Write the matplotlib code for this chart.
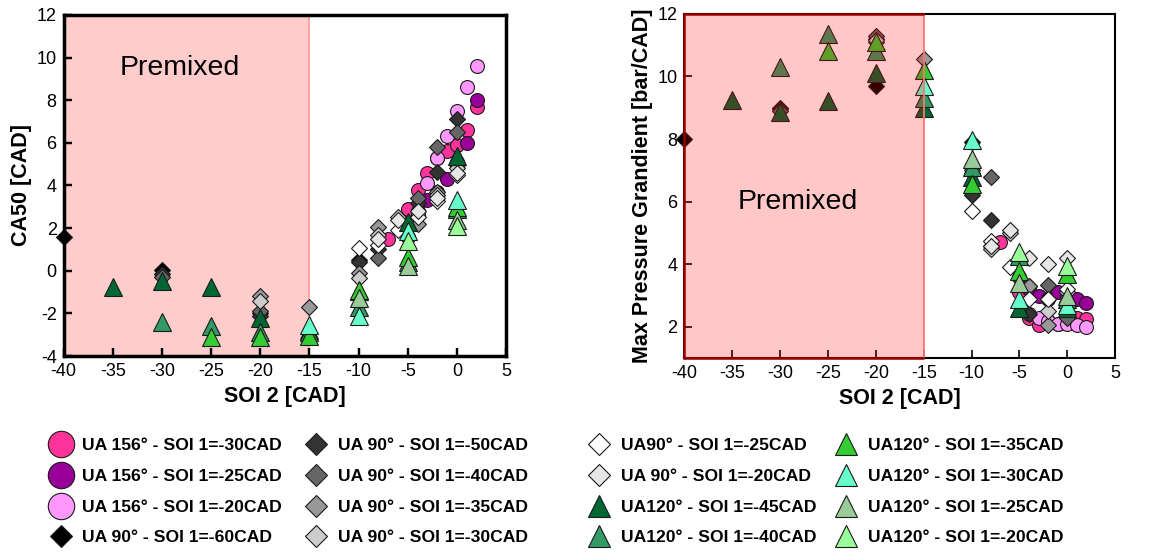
import matplotlib
matplotlib.use("Agg")
import matplotlib.pyplot as plt
from matplotlib.lines import Line2D

plt.rcParams['font.family'] = ['Liberation Sans', 'DejaVu Sans']
plt.rcParams['axes.unicode_minus'] = False

# --- series definitions (label, marker, face colour) ----------------------
LABELS = [
    "UA 156° - SOI 1=-30CAD", "UA 156° - SOI 1=-25CAD", "UA 156° - SOI 1=-20CAD",
    "UA 90° - SOI 1=-60CAD", "UA 90° - SOI 1=-50CAD", "UA 90° - SOI 1=-40CAD",
    "UA 90° - SOI 1=-35CAD", "UA 90° - SOI 1=-30CAD", "UA90° - SOI 1=-25CAD",
    "UA 90° - SOI 1=-20CAD", "UA120° - SOI 1=-45CAD", "UA120° - SOI 1=-40CAD",
    "UA120° - SOI 1=-35CAD", "UA120° - SOI 1=-30CAD", "UA120° - SOI 1=-25CAD",
    "UA120° - SOI 1=-20CAD",
]
MARKERS = ["o"] * 3 + ["D"] * 7 + ["^"] * 6
COLORS = ["#FF3399", "#990099", "#FF99FF",
          "#000000", "#333333", "#666666", "#999999", "#CCCCCC", "#FFFFFF", "#E6E6E6",
          "#006633", "#339966", "#33CC33", "#66FFCC", "#99CC99", "#99FF99"]

# SOI 2 values per series
SOI2 = [
    [-7, -5, -4, -3, -2, -1, 0, 1, 2],
    [-5, -4, -3, -2, -1, 0, 1, 2],
    [-4, -3, -2, -1, 0, 1, 2],
    [-40, -30, -20, -10],
    [-30, -20, -10, -8, -4, -2, 0],
    [-30, -20, -8, -4, -2, 0],
    [-20, -15, -10, -8, -4, -2, 0],
    [-20, -10, -8, -6, -2, 0],
    [-10, -8, -6, -4, -2, 0],
    [-8, -6, -4, -2, 0],
    [-35, -30, -25, -20, -15, -10, -5, 0],
    [-30, -25, -20, -15, -10, -5, 0],
    [-25, -20, -15, -10, -5, 0],
    [-15, -10, -5, 0],
    [-10, -5, 0],
    [-5, 0],
]

# CA50 [CAD]
CA50 = [
    [1.5, 2.9, 3.8, 4.6, 5.3, 5.6, 5.9, 6.6, 7.7],
    [1.6, 2.8, 3.3, 3.7, 4.3, 5.1, 6.0, 8.0],
    [2.6, 4.1, 5.3, 6.3, 7.5, 8.6, 9.6],
    [1.6, 0.05, -2.0, 0.5],
    [-0.15, -2.1, 0.4, 1.0, 3.2, 4.65, 7.1],
    [-0.3, -1.9, 0.6, 3.4, 5.8, 6.5],
    [-1.2, -1.7, -0.1, 2.07, 2.2, 3.7, 4.97],
    [-1.4, -0.35, 1.7, 2.5, 3.55, 4.8],
    [1.05, 1.2, 1.9, 2.5, 3.25, 4.5],
    [1.5, 2.4, 2.8, 3.4, 4.6],
    [-0.75, -0.5, -0.75, -2.2, -2.8, -0.95, 2.3, 5.4],
    [-2.4, -2.6, -2.85, -2.85, -1.7, 0.4, 2.9],
    [-3.1, -3.1, -3.05, -0.9, 0.65, 3.0],
    [-2.55, -2.1, 1.85, 3.3],
    [-1.3, 0.2, 2.4],
    [1.4, 2.1],
]

# Max pressure gradient [bar/CAD]
MPG = [
    [4.7, 3.1, 2.3, 2.05, 2.2, 2.1, 2.2, 2.3, 2.25],
    [3.6, 3.2, 3.0, 2.9, 3.1, 3.0, 2.9, 2.75],
    [2.4, 2.3, 2.2, 2.1, 2.1, 2.05, 2.0],
    [8.0, 9.0, 9.7, 7.9],
    [8.95, 11.2, 6.2, 5.4, 2.4, 2.9, 2.5],
    [8.9, 11.3, 6.8, 3.3, 3.35, 2.3],
    [11.1, 10.55, 6.9, 4.6, 3.3, 2.05, 2.8],
    [11.15, 7.0, 4.5, 5.0, 2.5, 3.1],
    [5.7, 4.75, 3.9, 2.9, 2.9, 3.2],
    [4.6, 5.1, 4.2, 4.0, 4.2],
    [9.25, 8.85, 9.2, 10.1, 9.0, 6.8, 2.6, 2.6],
    [10.3, 11.35, 10.8, 9.3, 7.1, 4.25, 2.9],
    [10.8, 11.1, 10.2, 6.55, 3.8, 3.7],
    [9.7, 7.96, 2.9, 2.7],
    [7.35, 3.4, 3.0],
    [4.4, 3.95],
]

MS = {"o": 10, "D": 8.5, "^": 12.5}      # plot marker sizes
MS_LEG = {"o": 19, "D": 11, "^": 16}     # legend marker sizes


def draw_series(ax, yvals):
    for x, y, m, c in zip(SOI2, yvals, MARKERS, COLORS):
        ax.plot(x, y, linestyle="none", marker=m, ms=MS[m], mfc=c,
                mec="#1a1a1a", mew=0.8, zorder=2, clip_on=False)


def style_axes(ax, spine_w):
    for s in ax.spines.values():
        s.set_linewidth(spine_w)
    ax.tick_params(direction="in", length=6, width=max(spine_w * 0.7, 1.2),
                   labelsize=13, pad=5)
    ax.set_xlim(-40, 5)
    ax.set_xticks(range(-40, 6, 5))
    ax.set_xlabel("SOI 2 [CAD]", fontsize=15.5, fontweight="bold", labelpad=4)


fig = plt.figure(figsize=(11.58, 5.52), dpi=100)

# --- left: CA50 -----------------------------------------------------------
ax1 = fig.add_axes([0.055, 0.355, 0.382, 0.618])
ax1.axvspan(-40, -15, color="#FFCCCC", zorder=0, lw=0)
ax1.axvline(-15, color="#FF9999", lw=1.2, zorder=1)
draw_series(ax1, CA50)
ax1.set_ylim(-4, 12)
ax1.set_yticks(range(-4, 13, 2))
ax1.set_ylabel("CA50 [CAD]", fontsize=15.5, fontweight="bold", labelpad=3)
ax1.text(-34.3, 9.5, "Premixed", fontsize=20.5, va="center", zorder=3)
style_axes(ax1, 2.5)

# --- right: max pressure gradient -----------------------------------------
ax2 = fig.add_axes([0.591, 0.351, 0.372, 0.624])
draw_series(ax2, MPG)
ax2.axvspan(-40, -15, facecolor=(1, 0, 0, 0.22), lw=0, zorder=4)
ax2.axvline(-15, color=(1, 0.45, 0.45), lw=1.3, zorder=5)
ax2.axvline(-40, color="#990000", lw=1.8, zorder=5, clip_on=False)
ax2.hlines([1, 12], -40, -15, color="#990000", lw=1.8, zorder=5, clip_on=False)
ax2.set_ylim(1, 12)
ax2.set_yticks(range(2, 13, 2))
ax2.set_ylabel("Max Pressure Grandient [bar/CAD]", fontsize=15.5,
               fontweight="bold", labelpad=3)
ax2.text(-34.4, 6.0, "Premixed", fontsize=20.5, va="center", zorder=6)
style_axes(ax2, 1.5)

# --- legend: four hand-placed columns --------------------------------------
handles = [Line2D([], [], linestyle="none", marker=m, ms=MS_LEG[m], mfc=c,
                  mec="#1a1a1a", mew=0.8)
           for m, c in zip(MARKERS, COLORS)]
col_left = [0.0326, 0.253, 0.498, 0.711]
for i, x0 in enumerate(col_left):
    sl = slice(4 * i, 4 * i + 4)
    leg = fig.legend(handles[sl], LABELS[sl], loc="upper left",
                     bbox_to_anchor=(x0, 0.222), frameon=False,
                     prop={"size": 12.6, "weight": "bold"}, borderpad=0,
                     handletextpad=0.45, labelspacing=0.88, handlelength=1.6)

fig.savefig("out.png", dpi=100)
